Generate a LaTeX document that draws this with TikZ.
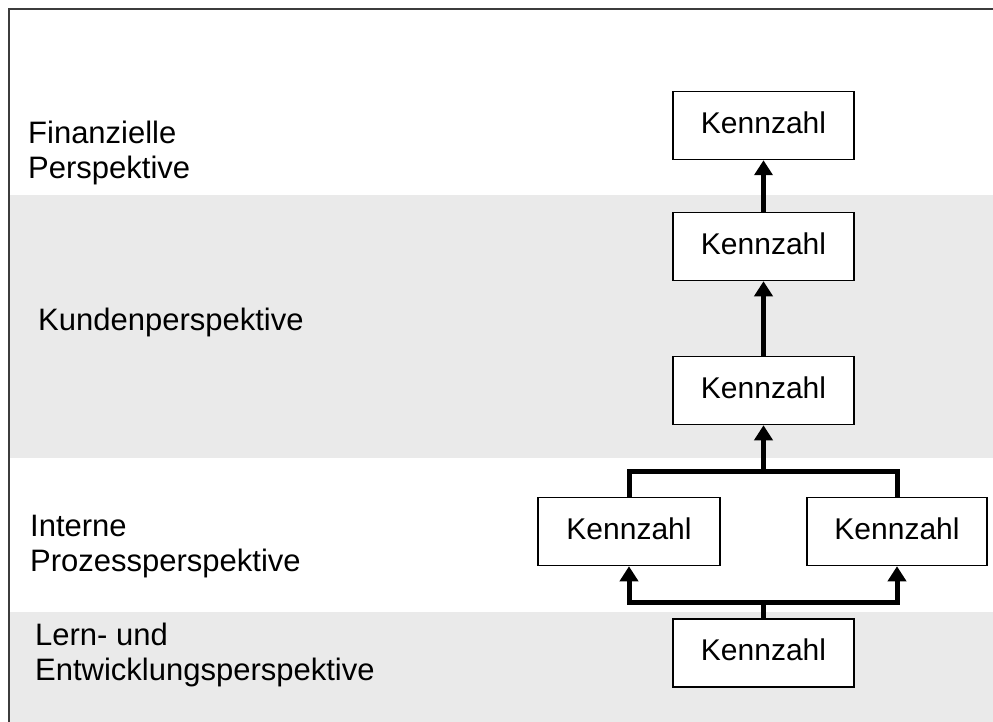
\documentclass[tikz,border=0pt]{standalone}
\usepackage{fontspec}
\setmainfont{Liberation Sans}
\usetikzlibrary{arrows.meta}
\definecolor{band}{HTML}{EAEAEA}
\definecolor{frame}{HTML}{3C3C3C}
\tikzset{
  kbox/.style={draw=black, line width=1.5pt, fill=white, minimum width=181pt, minimum height=68pt, inner sep=0pt, text depth=6pt, font=\fontsize{30}{35}\selectfont},
  lbl/.style={inner sep=0pt, align=left, font=\fontsize{31}{35}\selectfont},
  conn/.style={line width=5pt, line join=miter},
  arr/.style={conn, -{Triangle[width=18pt,length=15pt]}}
}
\begin{document}
\begin{tikzpicture}[x=1pt,y=-1pt]
\useasboundingbox (0,0) rectangle (993,722);
\fill[white] (0,0) rectangle (993,722);
% bands
\fill[band] (10,195) rectangle (993,458);
\fill[band] (10,612) rectangle (993,722);
% frame
\draw[frame, line width=2pt] (9,722) -- (9,9) -- (993,9);
% labels
\node[lbl, anchor=north west] (l1) at (28,121) {Finanzielle\\Perspektive};
\node[lbl, anchor=base west] (l2) at (38,330) {Kundenperspektive};
\node[lbl, anchor=north west] (l3) at (30,515) {Interne\\Prozessperspektive};
\node[lbl, anchor=north west] (l4) at (35,623) {Lern- und\\Entwicklungsperspektive};
% boxes
\node[kbox] (k1) at (763.5,125.5) {Kennzahl};
\node[kbox] (k2) at (763.5,246.5) {Kennzahl};
\node[kbox] (k3) at (763.5,390.5) {Kennzahl};
\node[kbox, minimum width=182pt] (pl) at (629,531.5) {Kennzahl};
\node[kbox, minimum width=180pt] (pr) at (897,531.5) {Kennzahl};
\node[kbox] (k6) at (763.5,653) {Kennzahl};
% junctions
\coordinate (j1) at (763.5,471);
\coordinate (j2) at (763.5,602);
% connectors
\draw[arr] (k2.north) -- (k1.south);
\draw[arr] (k3.north) -- (k2.south);
\draw[conn] (pl.north) |- (pr.north |- j1) -- (pr.north);
\draw[arr] (j1) -- (k3.south);
\draw[conn] (k6.north) -- (j2);
\draw[arr] (j2) -| (pl.south);
\draw[arr] (j2) -| (pr.south);
\end{tikzpicture}
\end{document}
